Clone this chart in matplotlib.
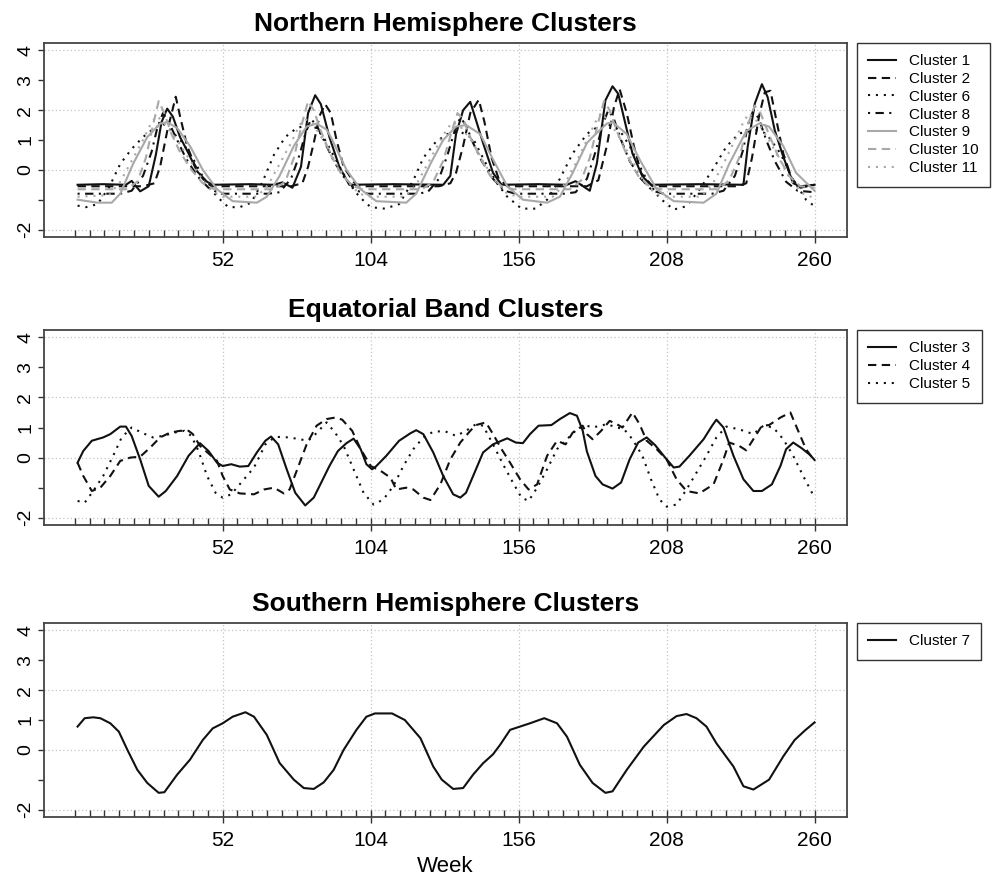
import matplotlib
matplotlib.use("Agg")
import matplotlib.pyplot as plt

plt.rcParams['font.family'] = ['Liberation Sans', 'DejaVu Sans']

# ---------------- data (weeks / standardised values) ----------------
# Northern hemisphere clusters
c1_weeks = [1, 10, 18, 20, 23, 26, 28.5, 30.5, 32.5, 34.5, 37, 40, 43, 46.5, 48.5,
            62, 70, 73, 76.5, 79.5, 82, 84.5, 86.5, 89.5, 93, 96.5,
            112, 129.5, 132, 134, 136.5, 139, 141, 143.5, 147, 150,
            163, 173, 176, 181, 183.5, 186.5, 189, 191, 193.5, 196, 199.5, 202.5,
            220, 235, 236.5, 239, 241.5, 243.5, 246, 249, 252.5, 255, 260]
c1_vals = [-0.5, -0.48, -0.5, -0.37, -0.72, -0.55, 0.5, 1.6, 2.05, 1.78, 1.1, 0.55, -0.05, -0.4, -0.5,
           -0.48, -0.5, -0.42, -0.6, 0.1, 1.9, 2.5, 2.2, 1.1, 0.1, -0.5,
           -0.48, -0.5, -0.2, 1.2, 2.0, 2.28, 1.67, 0.9, -0.1, -0.5,
           -0.48, -0.5, -0.38, -0.7, 0.22, 2.33, 2.8, 2.55, 1.55, 0.55, -0.22, -0.5,
           -0.48, -0.5, 0.78, 2.22, 2.87, 2.44, 1.33, 0.44, -0.45, -0.55, -0.5]

c2_weeks = [1, 24, 28, 30, 32.5, 35.5, 37, 39.5, 42, 45, 48,
            76, 80, 82, 84, 86, 88, 90, 92, 94.5, 98, 100,
            128, 132, 134, 136.5, 139, 142, 144, 146.5, 149, 152,
            180, 184, 187, 189.5, 191.5, 194, 196.5, 199, 203,
            233, 236, 238, 240.5, 242.5, 244.5, 246.5, 249, 252, 255, 260]
c2_vals = [-0.55, -0.55, -0.45, 0.1, 1.3, 2.45, 1.8, 0.8, 0.2, -0.3, -0.55,
           -0.55, -0.45, 0.1, 0.9, 1.8, 2.2, 1.9, 1.0, 0.1, -0.4, -0.55,
           -0.55, -0.45, -0.1, 0.8, 1.9, 2.35, 1.6, 0.4, -0.3, -0.55,
           -0.55, -0.35, 0.8, 2.1, 2.7, 1.9, 0.8, -0.1, -0.55,
           -0.55, -0.45, 0.4, 1.8, 2.6, 2.65, 1.7, 0.55, -0.3, -0.6, -0.5]

c6_weeks = [1, 4, 8, 12, 16, 20, 24, 28, 31, 34, 38, 42, 46, 50, 54, 58,
            62, 66, 70, 74, 78, 82, 85, 88, 92, 96, 100, 104, 109,
            114, 119, 122.5, 127, 131, 135, 140, 144, 148, 152, 157, 162,
            166, 170.5, 175, 180, 182, 187, 191.5, 195, 201, 205.5, 210.5, 215,
            219.5, 224.5, 229, 233.5, 239.5, 243, 248, 252.5, 257, 260]
c6_vals = [-1.2, -1.25, -1.15, -0.6, 0.2, 0.7, 1.1, 1.4, 1.55, 1.3, 0.9, 0.3, -0.4, -0.9, -1.25, -1.25,
           -1.1, -0.4, 0.5, 1.1, 1.4, 1.5, 1.4, 1.0, 0.3, -0.4, -0.9, -1.25, -1.3,
           -1.15, -0.35, 0.4, 0.95, 1.2, 1.3, 1.05, 0.3, -0.4, -0.9, -1.3, -1.3,
           -1.0, -0.3, 0.55, 1.2, 1.35, 1.55, 1.33, 0.8, -0.33, -0.94, -1.33, -1.22,
           -0.67, 0.05, 0.78, 1.22, 1.33, 1.22, 0.55, -0.33, -1.0, -1.22]

c8_weeks = [1, 16, 20, 24, 27, 29, 31, 33, 36, 39, 43, 47, 51,
            68, 72, 76, 79, 81, 83, 85, 88, 91, 95, 99, 103,
            120, 124, 128, 131, 133.5, 135.5, 137.5, 140, 143, 147, 151, 155,
            172, 176, 180, 183, 185.5, 187.5, 189.5, 192, 195, 199, 203, 207,
            224, 228, 232, 235, 236.5, 238.5, 240.5, 243, 246, 250, 254, 260]
c8_vals = [-0.8, -0.8, -0.7, -0.2, 0.6, 1.4, 1.9, 1.6, 1.0, 0.4, -0.2, -0.6, -0.8,
           -0.8, -0.75, -0.3, 0.5, 1.2, 1.7, 1.5, 0.9, 0.3, -0.3, -0.7, -0.8,
           -0.8, -0.75, -0.3, 0.5, 1.3, 1.75, 1.5, 0.9, 0.3, -0.3, -0.7, -0.8,
           -0.8, -0.75, -0.3, 0.6, 1.5, 2.0, 1.7, 1.0, 0.3, -0.3, -0.7, -0.8,
           -0.8, -0.7, -0.2, 0.7, 1.5, 2.0, 1.7, 1.0, 0.3, -0.4, -0.7, -0.75]

c9_weeks = [1, 8, 13, 16, 20.5, 25.5, 30, 32.5, 36, 40.5, 45, 50, 55.5, 64, 67.5, 72, 77, 81.5,
            85, 88.5, 90, 95.5, 100.5, 106, 116.5, 120, 125, 129.5, 134, 137.5, 142.5, 147,
            152, 157.5, 166, 170.5, 175, 180, 182, 187, 189, 194, 198.5, 204.5, 210.5, 221,
            225.5, 230, 236, 240.5, 244, 249, 253.5, 260]
c9_vals = [-1.0, -1.1, -1.1, -0.8, 0.2, 1.1, 1.55, 1.6, 1.4, 0.8, 0.0, -0.65, -1.05, -1.1, -0.9, -0.2, 0.8, 1.45,
           1.55, 1.35, 1.1, 0.0, -0.65, -1.05, -1.1, -0.8, 0.2, 1.0, 1.45, 1.5, 1.2, 0.35,
           -0.55, -1.0, -1.1, -0.9, -0.1, 0.9, 1.1, 1.55, 1.6, 1.2, 0.35, -0.65, -1.05, -1.1,
           -0.8, 0.2, 1.3, 1.55, 1.45, 0.8, -0.1, -0.7]

c10_weeks = [1, 18, 22, 25, 27.5, 29.5, 31.5, 34, 37, 41, 45, 49,
             70, 74, 77, 80, 82, 84, 86.5, 90, 94, 98, 101,
             122, 126, 129.5, 132.5, 134.5, 136.5, 139, 142, 146, 150, 154,
             174, 178, 181, 184, 186, 188, 190.5, 194, 198, 202, 206,
             226, 230, 233.5, 236.5, 239, 241, 243.5, 247, 251, 255, 260]
c10_vals = [-0.65, -0.65, -0.4, 0.4, 1.5, 2.3, 1.9, 1.2, 0.6, 0.0, -0.45, -0.65,
            -0.65, -0.4, 0.4, 1.6, 2.3, 2.0, 1.3, 0.5, -0.2, -0.55, -0.65,
            -0.65, -0.4, 0.3, 1.3, 1.9, 1.7, 1.1, 0.5, -0.2, -0.55, -0.65,
            -0.65, -0.35, 0.4, 1.6, 2.3, 2.0, 1.3, 0.5, -0.2, -0.55, -0.65,
            -0.65, -0.35, 0.4, 1.5, 2.15, 1.9, 1.3, 0.5, -0.2, -0.55, -0.6]

c11_weeks = [1, 12, 16, 20, 24, 27, 29, 32, 36, 40, 44, 48, 52,
             64, 68, 72, 76, 79, 81, 84, 88, 92, 96, 100, 104,
             116, 120, 124, 128, 131, 133, 136, 140, 144, 148, 152, 156,
             168, 172, 176, 180, 183, 185, 188, 192, 196, 200, 204, 208,
             220, 224, 228, 232, 235, 237, 240, 244, 248, 252, 256, 260]
c11_vals = [-0.9, -0.85, -0.4, 0.3, 1.0, 1.6, 1.8, 1.5, 1.0, 0.4, -0.2, -0.7, -0.9,
            -0.9, -0.5, 0.2, 0.9, 1.5, 1.7, 1.5, 0.9, 0.2, -0.4, -0.8, -0.9,
            -0.9, -0.5, 0.2, 0.9, 1.4, 1.6, 1.4, 0.9, 0.2, -0.4, -0.8, -0.9,
            -0.9, -0.5, 0.2, 1.0, 1.6, 1.9, 1.6, 1.0, 0.3, -0.4, -0.8, -0.9,
            -0.9, -0.5, 0.2, 1.0, 1.6, 1.9, 1.6, 1.0, 0.3, -0.4, -0.8, -0.95]

# Equatorial band clusters
c3_weeks = [1, 3, 6, 10, 12.5, 16, 18, 20, 23, 26, 29.5, 32, 36, 40, 44, 47, 50, 52, 55, 58,
            61, 64, 67, 69, 71.5, 74.5, 77.5, 81, 84, 86, 89.5, 92.5, 95.5, 98, 100.5, 102.5,
            104.5, 106, 109.5, 114, 118, 120, 122.5, 126, 129.5, 133, 135.5, 137.5, 141, 143.5,
            147, 152, 155, 157.5, 160, 163, 167.5, 170.5, 174, 176.5, 178.5, 180, 183, 185.5,
            189, 192, 195, 198, 201, 204, 207.5, 210.5, 212.5, 216, 221, 224, 225.5, 228, 231.5,
            235, 238.5, 241.5, 245, 248, 250, 252.5, 255.5, 258.5, 260]
c3_vals = [-0.17, 0.22, 0.56, 0.67, 0.78, 1.03, 1.03, 0.72, -0.06, -0.94, -1.3, -1.11, -0.61, 0.06, 0.48, 0.22, -0.17, -0.28, -0.22, -0.3,
           -0.28, 0.17, 0.56, 0.7, 0.44, -0.39, -1.17, -1.59, -1.33, -0.95, -0.28, 0.22, 0.48, 0.63, 0.28, -0.22,
           -0.39, -0.28, 0.06, 0.56, 0.81, 0.91, 0.78, 0.17, -0.61, -1.22, -1.33, -1.17, -0.39, 0.17,
           0.44, 0.64, 0.5, 0.48, 0.78, 1.06, 1.08, 1.28, 1.48, 1.39, 0.9, 0.2, -0.61, -0.89,
           -1.03, -0.83, -0.06, 0.5, 0.67, 0.41, 0.0, -0.33, -0.3, 0.06, 0.61, 1.06, 1.26, 1.0, 0.06,
           -0.72, -1.11, -1.11, -0.89, -0.28, 0.28, 0.5, 0.31, 0.08, -0.08]

c4_weeks = [1, 3, 6, 9, 12.5, 16, 19.5, 23, 26.5, 30, 33.5, 37, 40, 41.5, 44, 47, 50, 52, 54.5, 58,
            63, 66.5, 70, 73.5, 75.5, 78, 81.5, 85, 88.5, 91.5, 94, 97.5, 100.5, 104, 107.5, 111,
            113, 116.5, 119, 122.5, 125, 128.5, 132, 135.5, 139, 141, 144.5, 147, 150, 153,
            156.5, 159.5, 162.5, 166, 169.5, 172.5, 175, 178.5, 180, 182, 185, 188, 190.5, 192.5,
            196, 198.5, 201, 204.5, 208, 211.5, 215, 219.5, 224.5, 228, 230, 233.5, 236, 238.5,
            241.5, 244, 248, 251.5, 255, 257, 260]
c4_vals = [-0.17, -0.61, -1.11, -1.0, -0.61, -0.11, 0.0, 0.03, 0.33, 0.67, 0.83, 0.89, 0.89, 0.78, 0.39, 0.14, -0.11, -0.61, -1.06, -1.19,
           -1.22, -1.06, -1.0, -1.19, -1.06, -0.44, 0.44, 1.06, 1.28, 1.33, 1.26, 0.89, 0.28, -0.28, -0.44, -0.67,
           -1.06, -1.0, -1.06, -1.33, -1.41, -0.89, -0.06, 0.5, 0.89, 1.08, 1.17, 0.78, 0.28, -0.17,
           -0.72, -1.06, -0.89, 0.06, 0.56, 0.44, 0.83, 1.06, 0.78, 0.61, 0.89, 1.22, 1.11, 1.0,
           1.5, 1.11, 0.56, 0.28, -0.06, -0.72, -1.11, -1.19, -0.89, -0.06, 0.5, 0.39, 0.24, 0.61,
           1.06, 1.08, 1.33, 1.5, 0.72, 0.28, -0.11]

c5_weeks = [1, 3.5, 6.5, 10, 13.5, 16.5, 20, 23.5, 27.5, 31, 35, 38.5, 41, 43.5, 46.5, 49.5, 52, 55, 58.5, 63,
            67, 70.5, 75.5, 79, 82, 84, 88.5, 91.5, 94.5, 98, 101.5, 105, 108.5, 112, 115.5, 119,
            122.5, 126, 130, 134, 137.5, 141, 143.5, 147, 150.5, 154, 157, 159.5, 162.5, 166,
            169.5, 173, 176.5, 180, 182, 187, 190.5, 193, 196, 199.5, 202.5, 205.5, 208, 211.5,
            215, 218.5, 222, 225.5, 229, 233.5, 238.5, 242, 245.5, 249, 252.5, 256, 260]
c5_vals = [-1.44, -1.5, -1.11, -0.61, 0.06, 0.67, 1.0, 0.83, 0.67, 0.72, 0.83, 0.89, 0.72, 0.22, -0.61, -1.17, -1.33, -1.22, -0.83, -0.33,
           0.44, 0.69, 0.67, 0.61, 0.56, 0.72, 1.17, 0.83, 0.39, -0.39, -1.17, -1.56, -1.39, -0.94, -0.28, 0.28,
           0.67, 0.86, 0.88, 0.72, 0.89, 1.11, 1.06, 0.44, -0.22, -0.83, -1.33, -1.44, -1.0, -0.39,
           0.28, 0.61, 0.94, 1.06, 1.0, 1.11, 1.0, 0.95, 0.61, 0.06, -0.72, -1.39, -1.63, -1.56,
           -1.06, -0.5, 0.06, 0.67, 1.03, 0.94, 0.78, 1.06, 1.0, 0.61, 0.06, -0.61, -1.33]

# Southern hemisphere cluster
c7_weeks = [1, 3.5, 6.5, 9, 12.5, 15.5, 18.5, 22, 25.5, 29.5, 31.5, 36, 40.5, 45, 48.5, 52, 55.5, 60, 63, 67.5,
            72, 77, 80.5, 84, 87.5, 91, 94.5, 99, 102.5, 105.5, 111.5, 116, 121.5, 126, 129, 133, 136.5,
            140, 143.5, 147, 149.5, 153, 160, 165, 169.5, 173, 177.5, 182, 186.5, 189, 194, 200, 207,
            211.5, 215, 218.5, 222, 225.5, 231.5, 235, 238.5, 244, 249, 253, 256.5, 260]
c7_vals = [0.78, 1.06, 1.09, 1.06, 0.89, 0.61, 0.0, -0.67, -1.11, -1.44, -1.42, -0.83, -0.33, 0.33, 0.72, 0.89, 1.11, 1.26, 1.11, 0.5,
           -0.44, -1.0, -1.28, -1.31, -1.09, -0.67, 0.0, 0.67, 1.11, 1.22, 1.22, 1.0, 0.39, -0.56, -1.0, -1.31, -1.28,
           -0.83, -0.45, -0.15, 0.17, 0.67, 0.89, 1.06, 0.89, 0.44, -0.5, -1.11, -1.44, -1.39, -0.67, 0.11, 0.83,
           1.13, 1.2, 1.06, 0.78, 0.22, -0.56, -1.22, -1.33, -1.0, -0.22, 0.33, 0.64, 0.92]

major_weeks = [52, 104, 156, 208, 260]
minor_weeks = [i * 5.2 for i in range(51)]
y_ticks = [-2, -1, 0, 1, 2, 3, 4]
y_labels = ['-2', '', '0', '1', '2', '3', '4']

# line styles (R lty look-alikes)
BLACK = '#111111'
GREY = '#a8a8a8'
solid = '-'
dashed = (0, (4, 2.6))
dotted = (0, (1, 2.8))
dotdash = (0, (1, 2.6, 4, 2.6))

W, H = 995, 882
fig = plt.figure(figsize=(W / 100, H / 100), dpi=100)


def make_panel(top_px, bottom_px, title):
    ax = fig.add_axes([44 / W, 1 - bottom_px / H, (847 - 44) / W, (bottom_px - top_px) / H])
    ax.set_xlim(-10.8, 271.4)
    ax.set_ylim(-2.24, 4.24)

    # dotted grey grid only at the labelled positions
    for x in major_weeks:
        ax.axvline(x, color='#c4c4c4', lw=0.9, ls=(0, (1, 2)), zorder=0)
    for y in [-2, 0, 2, 4]:
        ax.axhline(y, color='#c4c4c4', lw=0.9, ls=(0, (1, 2)), zorder=0)

    ax.set_xticks(major_weeks)
    ax.set_xticklabels([str(w) for w in major_weeks])
    ax.set_xticks(minor_weeks, minor=True)
    ax.xaxis.remove_overlapping_locs = False
    ax.tick_params(axis='x', which='major', direction='out', length=4, width=1,
                   color='#333333', labelsize=15, pad=6)
    ax.tick_params(axis='x', which='minor', direction='in', length=5, width=1, color='#333333')

    ax.set_yticks(y_ticks)
    ax.set_yticklabels(y_labels)
    ax.tick_params(axis='y', direction='out', length=4, width=1, color='#333333',
                   labelsize=14, pad=3, labelrotation=90)
    for lbl in ax.get_yticklabels():
        lbl.set_verticalalignment('center')

    for sp in ax.spines.values():
        sp.set_color('#444444')
        sp.set_linewidth(1.3)
    ax.set_title(title, fontsize=19, fontweight='bold', pad=9)
    return ax


def add_legend(ax, top_px):
    ax.legend(loc='upper left', bbox_to_anchor=(857 / W, 1 - top_px / H),
              bbox_transform=fig.transFigure, borderaxespad=0, fontsize=11,
              frameon=True, fancybox=False, framealpha=1, edgecolor='#333333',
              handlelength=1.8, handletextpad=0.85, labelspacing=0.25, borderpad=0.75)
    ax.get_legend().get_frame().set_linewidth(1.0)


# ---------------- Northern hemisphere ----------------
ax1 = make_panel(43.3, 236.7, 'Northern Hemisphere Clusters')
ax1.plot(c1_weeks, c1_vals, color=BLACK, ls=solid, lw=1.5, label='Cluster 1')
ax1.plot(c2_weeks, c2_vals, color=BLACK, ls=dashed, lw=1.5, label='Cluster 2')
ax1.plot(c6_weeks, c6_vals, color=BLACK, ls=dotted, lw=1.5, label='Cluster 6')
ax1.plot(c8_weeks, c8_vals, color=BLACK, ls=dotdash, lw=1.5, label='Cluster 8')
ax1.plot(c9_weeks, c9_vals, color=GREY, ls=solid, lw=1.5, label='Cluster 9')
ax1.plot(c10_weeks, c10_vals, color=GREY, ls=dashed, lw=1.5, label='Cluster 10')
ax1.plot(c11_weeks, c11_vals, color=GREY, ls=dotted, lw=1.5, label='Cluster 11')
add_legend(ax1, 42.7)

# ---------------- Equatorial band ----------------
ax2 = make_panel(330, 525, 'Equatorial Band Clusters')
ax2.plot(c3_weeks, c3_vals, color=BLACK, ls=solid, lw=1.5, label='Cluster 3')
ax2.plot(c4_weeks, c4_vals, color=BLACK, ls=dashed, lw=1.5, label='Cluster 4')
ax2.plot(c5_weeks, c5_vals, color=BLACK, ls=dotted, lw=1.5, label='Cluster 5')
add_legend(ax2, 330)

# ---------------- Southern hemisphere ----------------
ax3 = make_panel(623.3, 816.7, 'Southern Hemisphere Clusters')
ax3.plot(c7_weeks, c7_vals, color=BLACK, ls=solid, lw=1.5, label='Cluster 7')
add_legend(ax3, 623)

fig.text(445.5 / W, 1 - 866 / H, 'Week', ha='center', va='center', fontsize=16)

fig.savefig('out.png', dpi=100)
